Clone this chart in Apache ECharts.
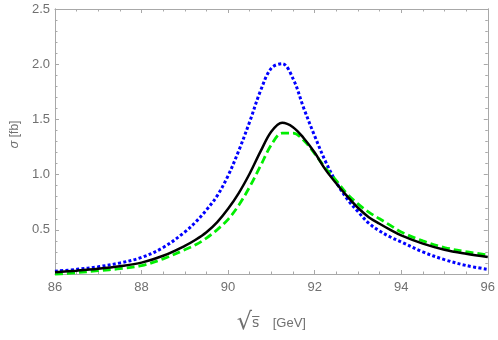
<!DOCTYPE html>
<html>
<head>
<meta charset="utf-8">
<script src="https://cdn.jsdelivr.net/npm/echarts@6/dist/echarts.min.js"></script>
<style>
  html, body { margin: 0; padding: 0; background: #fff; }
  #chart { width: 498px; height: 340px; }
</style>
</head>
<body>
<div id="chart"></div>
<script>
// sqrt(s) in GeV
const energies = [86, 86.5, 87, 87.5, 88, 88.5, 89, 89.25, 89.5, 89.75, 90, 90.25, 90.5, 90.75, 91,
  91.25, 91.5, 91.75, 92, 92.25, 92.5, 92.75, 93, 93.25, 93.5, 93.75, 94, 94.5, 95, 95.5, 96];
// sigma [fb]
const blueDotted = [0.125, 0.142, 0.166, 0.2, 0.25, 0.34, 0.48, 0.57, 0.68, 0.81, 0.99, 1.22, 1.48, 1.76, 1.965,
  2.005, 1.87, 1.6, 1.35, 1.12, 0.93, 0.78, 0.665, 0.56, 0.49, 0.435, 0.39, 0.3, 0.23, 0.177, 0.142];
const blackSolid = [0.116, 0.13, 0.147, 0.17, 0.203, 0.265, 0.355, 0.41, 0.478, 0.57, 0.69, 0.835, 1.01, 1.21, 1.39,
  1.47, 1.43, 1.33, 1.2, 1.045, 0.92, 0.805, 0.7, 0.615, 0.555, 0.5, 0.45, 0.375, 0.32, 0.283, 0.253];
const greenDashed = [0.095, 0.112, 0.13, 0.148, 0.176, 0.237, 0.32, 0.365, 0.425, 0.502, 0.595, 0.725, 0.89, 1.08, 1.27,
  1.375, 1.375, 1.31, 1.19, 1.06, 0.945, 0.825, 0.735, 0.66, 0.6, 0.54, 0.48, 0.4, 0.34, 0.302, 0.272];

const yMajorTicks = [0.5, 1.0, 1.5, 2.0, 2.5];
const yMinorTicks = [0.2, 0.3, 0.4, 0.6, 0.7, 0.8, 0.9, 1.1, 1.2, 1.3, 1.4, 1.6, 1.7, 1.8, 1.9, 2.1, 2.2, 2.3, 2.4];

const frameColor = '#a8a8a8';
const labelColor = '#707070';
const font = 'Liberation Sans';

const pairs = (ys) => energies.map((x, i) => [x, ys[i]]);

const xAxisBase = (pos, showLabel) => ({
  type: 'value',
  position: pos,
  min: 86,
  max: 96,
  interval: 2,
  axisLine: { show: true, onZero: false, lineStyle: { color: frameColor, width: 1 } },
  axisTick: { show: true, inside: true, length: 4, lineStyle: { color: frameColor } },
  minorTick: { show: true, splitNumber: 4, length: 2.5, lineStyle: { color: frameColor } },
  axisLabel: { show: showLabel, margin: 7, color: labelColor, fontSize: 13, fontFamily: font },
  splitLine: { show: false },
});

const yAxisBase = (pos, ticks, len, showLabel) => ({
  type: 'value',
  position: pos,
  min: 0.1,
  max: 2.5,
  axisLine: { show: true, onZero: false, lineStyle: { color: frameColor, width: 1 } },
  axisTick: { show: true, inside: true, length: len, customValues: ticks, lineStyle: { color: frameColor } },
  axisLabel: {
    show: showLabel,
    customValues: ticks,
    margin: 5,
    color: labelColor,
    fontSize: 13,
    fontFamily: font,
    formatter: (v) => v.toFixed(1),
  },
  splitLine: { show: false },
});

const yLeft = yAxisBase('left', yMajorTicks, 4, true);
yLeft.name = '{i|σ} [fb]';
yLeft.nameLocation = 'middle';
yLeft.nameRotate = 90;
yLeft.nameGap = 31;
yLeft.nameTextStyle = {
  color: labelColor,
  fontSize: 12,
  fontFamily: font,
  padding: [0, 0, 0, 14],
  rich: { i: { fontStyle: 'italic', fontSize: 13, color: labelColor, fontFamily: font } },
};

const xBottom = xAxisBase('bottom', true);
xBottom.name = '{r|√}{s|s̅}    {g|[GeV]}';
xBottom.nameLocation = 'middle';
xBottom.nameGap = 37;
xBottom.nameTextStyle = {
  color: labelColor,
  fontFamily: font,
  rich: {
    r: { fontSize: 24, color: labelColor, fontFamily: 'DejaVu Sans' },
    s: { fontSize: 14, color: labelColor, fontFamily: 'DejaVu Sans' },
    g: { fontSize: 13, color: labelColor, fontFamily: font },
  },
};

const chart = echarts.init(document.getElementById('chart'), null, { renderer: 'canvas' });
chart.setOption({
  animation: false,
  backgroundColor: '#ffffff',
  grid: { left: 49, right: 9, top: 9, bottom: 58 },
  xAxis: [xBottom, xAxisBase('top', false)],
  yAxis: [
    yLeft,
    yAxisBase('left', yMinorTicks, 2.5, false),
    yAxisBase('right', yMajorTicks, 4, false),
    yAxisBase('right', yMinorTicks, 2.5, false),
  ],
  series: [
    {
      name: 'blue',
      type: 'line',
      data: pairs(blueDotted),
      smooth: 0.35,
      showSymbol: false,
      clip: true,
      lineStyle: { color: '#0000ff', width: 3, type: [3, 2.3], cap: 'butt' },
    },
    {
      name: 'green',
      type: 'line',
      data: pairs(greenDashed),
      smooth: 0.35,
      showSymbol: false,
      clip: true,
      lineStyle: { color: '#00ee00', width: 2.8, type: [8, 4], cap: 'butt' },
    },
    {
      name: 'black',
      type: 'line',
      data: pairs(blackSolid),
      smooth: 0.35,
      showSymbol: false,
      clip: true,
      lineStyle: { color: '#000000', width: 2.5 },
    },
  ],
});
</script>
</body>
</html>
